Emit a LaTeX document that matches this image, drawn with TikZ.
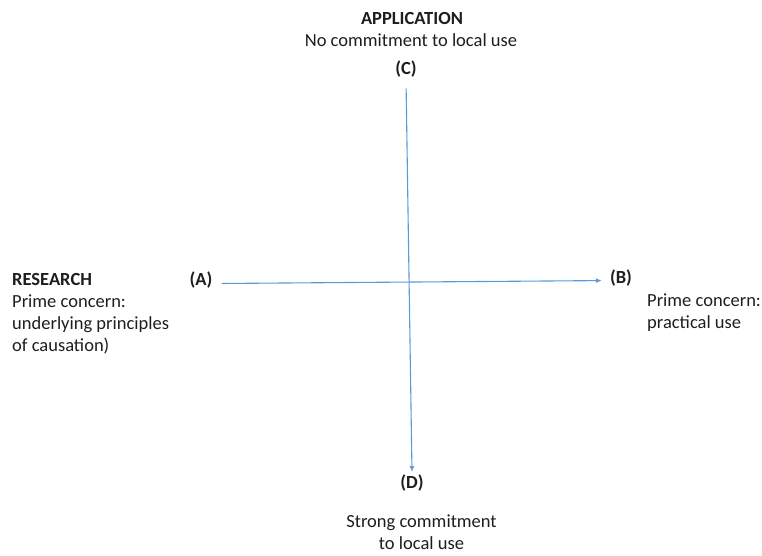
\documentclass[tikz,border=0pt]{standalone}
\usepackage{fontspec}
\setmainfont{Carlito}
\definecolor{axisblue}{RGB}{91, 155, 213}
\definecolor{labelgray}{RGB}{30, 30, 30}
\usetikzlibrary{arrows.meta, positioning}

\begin{document}
\begin{tikzpicture}[x=1pt, y=-1pt,
  every node/.style={text=labelgray, font=\fontsize{18.5}{22}\selectfont, inner sep=0pt},
  pole/.style={font=\fontsize{18.5}{22}\selectfont\bfseries, inner sep=2pt, anchor=base},
  axis/.style={draw=axisblue, line width=1.1pt, -{Latex[length=6pt, width=5pt]}}]
  \useasboundingbox (0,0) rectangle (762,556);

  % top pole
  \node[pole] (app) at (412,25) {APPLICATION};
  \node[anchor=base] (nocommit) at (411,47) {No commitment to local use};
  \node[pole] (C) at (406,75) {(C)};

  % left and right poles
  \node[pole] (A) at (201,285) {(A)};
  \node[pole] (B) at (621,283) {(B)};
  \node[align=left, anchor=north west] (research) at (12,273)
    {\textbf{RESEARCH}\\Prime concern:\\underlying principles\\of causation)};
  \node[align=left, anchor=north west] (practical) at (647,294)
    {Prime concern:\\practical use};

  % bottom pole
  \node[pole] (D) at (412,488) {(D)};
  \node[align=center, anchor=north] (strong) at (421.5,515) {Strong commitment\\to local use};

  % axes
  \draw[axis, shorten <=8.5pt] (C.south) -- (D.north);
  \draw[axis, shorten <=7pt, shorten >=6pt] ([yshift=-4pt]A.east) -- ([yshift=-3pt]B.west);
\end{tikzpicture}
\end{document}
